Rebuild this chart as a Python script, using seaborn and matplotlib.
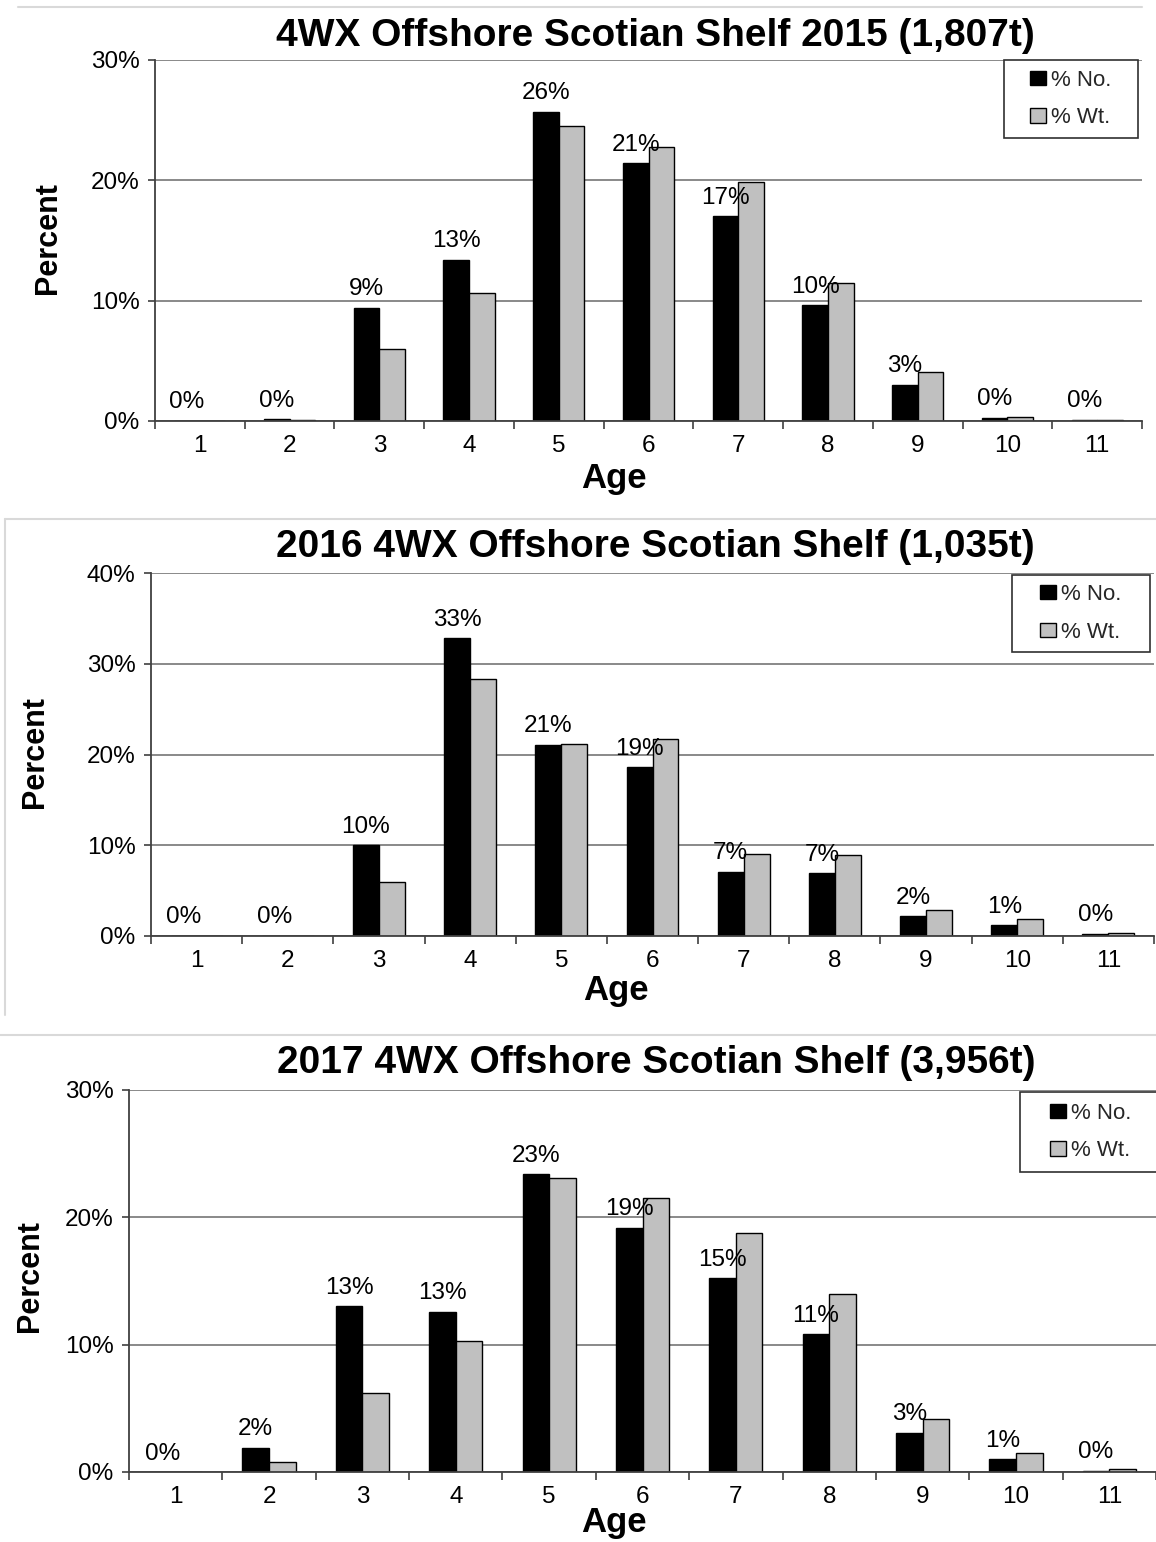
import matplotlib
matplotlib.use("Agg")
import matplotlib.pyplot as plt
from matplotlib.lines import Line2D
from matplotlib.patches import Rectangle
import pandas as pd
import seaborn as sns

# ---- data -------------------------------------------------------------
ages = [1, 2, 3, 4, 5, 6, 7, 8, 9, 10, 11]
series_names = ["% No.", "% Wt."]

no_2015 = [0.0, 0.15, 9.4, 13.4, 25.7, 21.4, 17.0, 9.6, 3.0, 0.25, 0.1]
wt_2015 = [0.0, 0.1, 6.0, 10.6, 24.5, 22.8, 19.9, 11.5, 4.1, 0.35, 0.1]

no_2016 = [0.0, 0.0, 10.0, 32.8, 21.1, 18.6, 7.1, 6.9, 2.2, 1.2, 0.25]
wt_2016 = [0.0, 0.0, 5.9, 28.3, 21.2, 21.7, 9.0, 8.9, 2.9, 1.9, 0.35]

no_2017 = [0.0, 1.9, 13.0, 12.6, 23.4, 19.2, 15.2, 10.8, 3.1, 1.0, 0.1]
wt_2017 = [0.0, 0.76, 6.2, 10.3, 23.1, 21.5, 18.75, 14.0, 4.2, 1.5, 0.2]

titles = [
    "4WX Offshore Scotian Shelf 2015 (1,807t)",
    "2016 4WX Offshore Scotian Shelf (1,035t)",
    "2017 4WX Offshore Scotian Shelf (3,956t)",
]
y_max = [30, 40, 30]

# ---- style ------------------------------------------------------------
sns.set_theme(style="white")
plt.rcParams["font.family"] = ["Liberation Sans", "DejaVu Sans"]

W, H = 1156, 1542
fig = plt.figure(figsize=(W / 100, H / 100), dpi=100)


def fx(x):
    return x / W


def fy(y):
    return 1 - y / H


palette = {"% No.": "#000000", "% Wt.": "#C0C0C0"}
axis_col = "#404040"
grid_col = "#808080"
tick_fs = 17.5

layout = [
    dict(plot=(155, 60, 1142, 421), title=(655, 46), ylab=(48, 238),
         xlab=(614, 488), leg=(1004, 60, 1138, 138)),
    dict(plot=(151, 573, 1154, 936), title=(655, 557), ylab=(35, 752),
         xlab=(616, 1000), leg=(1012, 575, 1150, 652)),
    dict(plot=(129, 1090, 1156, 1472), title=(656, 1073), ylab=(30, 1276),
         xlab=(614, 1532), leg=(1020, 1092, 1162, 1172)),
]
series = [(no_2015, wt_2015), (no_2016, wt_2016), (no_2017, wt_2017)]

for title, (no_vals, wt_vals), ymax, lay in zip(titles, series, y_max, layout):
    l, t, r, b = lay["plot"]
    ax = fig.add_axes([fx(l), fy(b), (r - l) / W, (b - t) / H])

    df = pd.DataFrame({
        "Age": ages * 2,
        "Percent": list(no_vals) + list(wt_vals),
        "Series": [series_names[0]] * len(ages) + [series_names[1]] * len(ages),
    })
    sns.barplot(data=df, x="Age", y="Percent", hue="Series",
                hue_order=series_names, order=ages, palette=palette,
                width=0.57, edgecolor="black", linewidth=1.0,
                saturation=1, ax=ax, legend=True)

    # axes
    ax.set_xlim(-0.5, len(ages) - 0.5)
    ax.set_ylim(0, ymax)
    yt = list(range(0, ymax + 1, 10))
    ax.set_yticks(yt)
    ax.set_yticklabels([f"{v}%" for v in yt])
    ax.set_xticks(range(len(ages)))
    ax.set_xticklabels([str(a) for a in ages])
    ax.set_xticks([i - 0.5 for i in range(len(ages) + 1)], minor=True)
    ax.tick_params(axis="x", which="major", length=0, pad=10,
                   labelsize=tick_fs, labelcolor="black", bottom=True)
    ax.tick_params(axis="x", which="minor", length=6, width=1.2,
                   color=axis_col, direction="out", bottom=True)
    ax.tick_params(axis="y", which="major", length=5, width=1.2,
                   color=axis_col, direction="out", pad=6,
                   labelsize=tick_fs, labelcolor="black", left=True)
    ax.yaxis.grid(True, color=grid_col, linewidth=1.3)
    ax.set_axisbelow(True)
    for side in ("top", "right"):
        ax.spines[side].set_visible(False)
    for side in ("left", "bottom"):
        ax.spines[side].set_visible(True)
        ax.spines[side].set_color(axis_col)
        ax.spines[side].set_linewidth(1.3)
    ax.set_xlabel("")
    ax.set_ylabel("")

    # value labels above the % No. bars
    for bar in ax.containers[0]:
        h = bar.get_height()
        xc = bar.get_x() + bar.get_width() / 2
        ax.annotate(f"{int(h + 0.5)}%", (xc, h), xytext=(0, 9),
                    textcoords="offset points", ha="center", va="baseline",
                    fontsize=tick_fs, color="black")

    # legend in a square box
    handles, labels = ax.get_legend_handles_labels()
    lx0, ly0, lx1, ly1 = lay["leg"]
    ax.add_patch(Rectangle((fx(lx0), fy(ly1)), (lx1 - lx0) / W,
                           (ly1 - ly0) / H, transform=fig.transFigure,
                           facecolor="white", edgecolor="#303030",
                           linewidth=1.2, zorder=5, clip_on=False))
    leg = ax.legend(handles, labels, loc="center",
                    bbox_to_anchor=(fx((lx0 + lx1) / 2), fy((ly0 + ly1) / 2)),
                    bbox_transform=fig.transFigure, frameon=False,
                    fontsize=16, handlelength=0.7, handleheight=0.6,
                    handletextpad=0.25, labelspacing=0.75, borderpad=0.2)
    leg.set_zorder(6)

    # titles and axis labels
    fig.text(fx(lay["title"][0]), fy(lay["title"][1]), title, ha="center",
             va="baseline", fontsize=28, fontweight="bold", color="black")
    fig.text(fx(lay["ylab"][0]), fy(lay["ylab"][1]), "Percent", ha="center",
             va="center", rotation=90, fontsize=22, fontweight="bold",
             color="black")
    fig.text(fx(lay["xlab"][0]), fy(lay["xlab"][1]), "Age", ha="center",
             va="baseline", fontsize=25, fontweight="bold", color="black")

# thin panel separators
sep = "#d9d9d9"
fig.add_artist(Line2D([fx(18), fx(1142)], [fy(7), fy(7)], color=sep, lw=1.5))
fig.add_artist(Line2D([fx(5), fx(1156)], [fy(519), fy(519)], color=sep, lw=1.5))
fig.add_artist(Line2D([fx(5), fx(5)], [fy(519), fy(1015)], color=sep, lw=1.5))
fig.add_artist(Line2D([fx(0), fx(1156)], [fy(1035), fy(1035)], color=sep, lw=1.5))

fig.savefig("out.png", dpi=100, facecolor="white")
